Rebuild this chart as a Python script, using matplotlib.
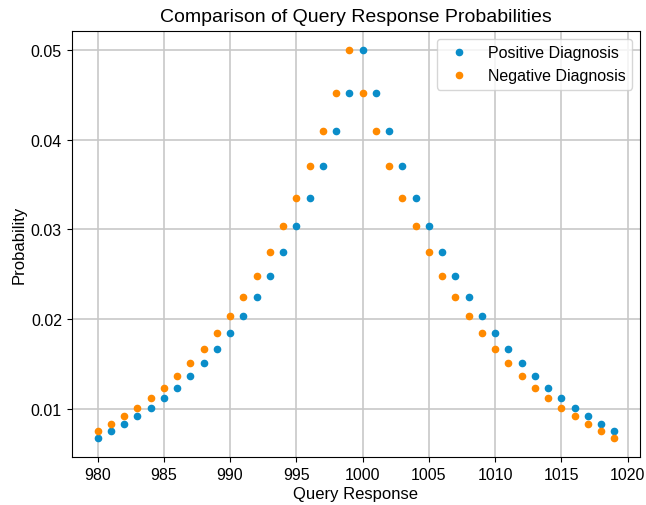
import matplotlib
matplotlib.use("Agg")
import matplotlib.pyplot as plt

plt.rcParams['font.family'] = ['Liberation Sans', 'DejaVu Sans']

# query responses
x_vals = list(range(980, 1020))

# probabilities
pos_probs = [0.00677, 0.00748, 0.00826, 0.00913, 0.01009, 0.01116, 0.01233, 0.01363,
             0.01506, 0.01664, 0.01839, 0.02033, 0.02247, 0.02483, 0.02744, 0.03033,
             0.03352, 0.03704, 0.04094, 0.04524, 0.05000, 0.04524, 0.04094, 0.03704,
             0.03352, 0.03033, 0.02744, 0.02483, 0.02247, 0.02033, 0.01839, 0.01664,
             0.01506, 0.01363, 0.01233, 0.01116, 0.01009, 0.00913, 0.00826, 0.00748]
neg_probs = [0.00748, 0.00826, 0.00913, 0.01009, 0.01116, 0.01233, 0.01363, 0.01506,
             0.01664, 0.01839, 0.02033, 0.02247, 0.02483, 0.02744, 0.03033, 0.03352,
             0.03704, 0.04094, 0.04524, 0.05000, 0.04524, 0.04094, 0.03704, 0.03352,
             0.03033, 0.02744, 0.02483, 0.02247, 0.02033, 0.01839, 0.01664, 0.01506,
             0.01363, 0.01233, 0.01116, 0.01009, 0.00913, 0.00826, 0.00748, 0.00677]

fig, ax = plt.subplots(figsize=(6.46, 5.06), dpi=100)
ax.plot(x_vals, pos_probs, 'o', color='#0A8DC9', markersize=4.5, label='Positive Diagnosis')
ax.plot(x_vals, neg_probs, 'o', color='#FF8A00', markersize=4.5, label='Negative Diagnosis')
ax.set_xlabel('Query Response', fontsize=12, labelpad=3)
ax.set_ylabel('Probability', fontsize=12, labelpad=3)
ax.set_title('Comparison of Query Response Probabilities', fontsize=14, pad=7)
ax.set_xticks(range(980, 1021, 5))
ax.tick_params(labelsize=11.5)
ax.legend(fontsize=11.5, loc='upper right')
ax.grid(True, color='#c8c8c8', linewidth=1.2)
ax.set_axisbelow(True)
fig.subplots_adjust(left=0.111, right=0.991, top=0.937, bottom=0.095)
plt.savefig('out.png', dpi=100)
plt.close()
